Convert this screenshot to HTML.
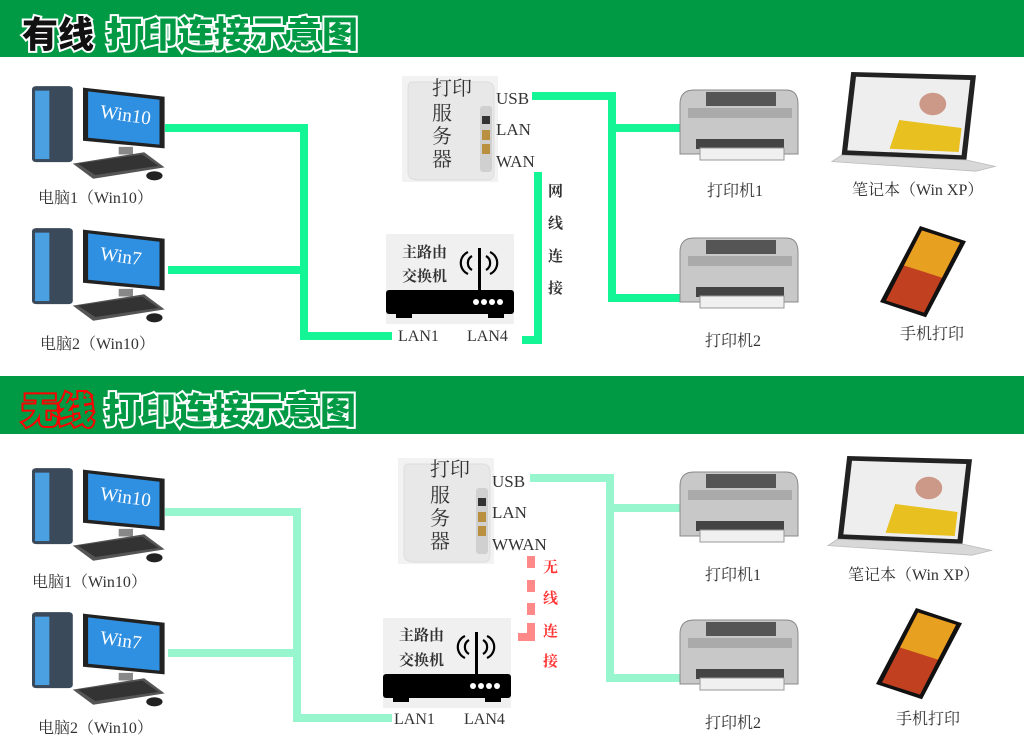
<!DOCTYPE html>
<html><head><meta charset="utf-8"><style>
html,body{margin:0;padding:0;background:#fff;}
svg{display:block;}
.t{font-family:"Liberation Serif","Noto Serif CJK SC",serif;fill:#333;}
.h{font-family:"Liberation Sans","Noto Sans CJK SC",sans-serif;font-weight:900;font-size:36px;stroke-width:4px;paint-order:stroke;}
</style></head><body>
<svg width="1024" height="750" viewBox="0 0 1024 750" xmlns="http://www.w3.org/2000/svg">
<defs>
<g id="pc">
  <rect x="0" y="8" width="40" height="100" rx="4" fill="#3a4a5a"/>
  <rect x="3" y="14" width="14" height="90" fill="#4aa0e0"/>
  <polygon points="50,10 130,22 130,90 50,80" fill="#222"/>
  <polygon points="55,15 125,26 125,85 55,76" fill="#2f8fe0"/>
  <rect x="85" y="88" width="14" height="10" fill="#888"/>
  <polygon points="40,110 110,95 130,115 60,130" fill="#555"/>
  <polygon points="45,110 108,98 124,113 62,125" fill="#333"/>
  <ellipse cx="120" cy="126" rx="8" ry="6" fill="#222"/>
</g>
<g id="printer">
  <path d="M4,20 Q4,6 18,6 L110,6 Q122,6 122,20 L122,70 L4,70 Z" fill="#c8c8c8" stroke="#888"/>
  <rect x="30" y="8" width="70" height="14" fill="#555"/>
  <rect x="12" y="24" width="104" height="10" fill="#aaa"/>
  <rect x="20" y="55" width="88" height="10" fill="#444"/>
  <rect x="24" y="64" width="84" height="12" fill="#f0f0f0" stroke="#999"/>
</g>
<g id="srv">
  <rect x="0" y="0" width="96" height="106" fill="#f2f2f2"/>
  <path d="M10,6 Q6,6 6,14 L6,96 Q6,104 16,104 L86,104 Q92,104 92,96 L92,14 Q92,6 84,6 Z" fill="#e8e8e8" stroke="#ddd"/>
  <rect x="78" y="30" width="12" height="66" rx="3" fill="#d0d0d0"/>
  <rect x="80" y="40" width="8" height="8" fill="#333"/>
  <rect x="80" y="54" width="8" height="10" fill="#b89040"/>
  <rect x="80" y="68" width="8" height="10" fill="#b89040"/>
</g>
<g id="router">
  <rect x="0" y="0" width="128" height="90" fill="#f0f0f0"/>
  <rect x="92" y="14" width="3" height="46" fill="#000"/>
  <path d="M86,22 a8,8 0 0 0 0,14 M100,22 a8,8 0 0 1 0,14 M82,18 a12,12 0 0 0 0,22 M104,18 a12,12 0 0 1 0,22" stroke="#000" stroke-width="2.2" fill="none"/>
  <rect x="0" y="56" width="128" height="24" rx="3" fill="#000"/>
  <rect x="10" y="78" width="16" height="6" fill="#000"/><rect x="102" y="78" width="16" height="6" fill="#000"/>
  <circle cx="90" cy="68" r="3" fill="#fff"/><circle cx="98" cy="68" r="3" fill="#fff"/><circle cx="106" cy="68" r="3" fill="#fff"/><circle cx="114" cy="68" r="3" fill="#fff"/>
</g>
<g id="laptop">
  <polygon points="20,0 150,4 140,110 10,104" fill="#222"/>
  <polygon points="25,6 144,10 135,104 16,98" fill="#eee"/>
  <polygon points="70,60 135,70 132,100 60,96" fill="#e8c020"/>
  <circle cx="105" cy="40" r="14" fill="#c98"/>
  <polygon points="10,104 140,110 170,118 150,124 0,112" fill="#d8d8d8" stroke="#bbb"/>
</g>
<g id="phone">
  <polygon points="40,0 86,20 46,120 0,100" fill="#111"/>
  <polygon points="42,6 80,22 44,114 6,98" fill="#c04020"/>
  <polygon points="42,6 80,22 62,68 24,52" fill="#e8a020"/>
</g>
</defs>

<rect x="0" y="0" width="1024" height="57" fill="#009944"/>
<text x="22" y="47" class="h" fill="#111" stroke="#fff">有线</text>
<text x="106" y="47" class="h" fill="#009944" stroke="#fff">打印连接示意图</text>

<rect x="0" y="376" width="1024" height="58" fill="#009944"/>
<text x="22" y="423" class="h" fill="#009944" stroke="#f00">无线</text>
<text x="104" y="423" class="h" fill="#009944" stroke="#fff">打印连接示意图</text>

<g stroke="#14f596" stroke-width="8" fill="none">
  <polyline points="165,128 304,128 304,336 392,336"/>
  <line x1="168" y1="270" x2="304" y2="270"/>
  <polyline points="532,96 612,96 612,298 682,298"/>
  <line x1="612" y1="128" x2="682" y2="128"/>
  <polyline points="538,172 538,340 522,340"/>
</g>
<g stroke="#98f6cf" stroke-width="8" fill="none">
  <polyline points="165,512 297,512 297,718 392,718"/>
  <line x1="168" y1="653" x2="297" y2="653"/>
  <polyline points="530,478 610,478 610,678 682,678"/>
  <line x1="610" y1="508" x2="682" y2="508"/>
</g>
<g fill="#ff8888">
  <rect x="527" y="556" width="8" height="12"/><rect x="527" y="580" width="8" height="12"/>
  <rect x="527" y="603" width="8" height="12"/><rect x="527" y="623" width="8" height="18"/>
  <rect x="518" y="633" width="17" height="8"/>
</g>

<use href="#pc" transform="translate(32,80) scale(1.02,0.76)"/>
<use href="#pc" transform="translate(32,222) scale(1.02,0.76)"/>
<text x="38" y="203" class="t" font-size="16" fill="#555">电脑1（Win10）</text>
<text x="40" y="349" class="t" font-size="16" fill="#555">电脑2（Win10）</text>
<use href="#srv" x="402" y="76"/>
<text x="432" y="95" class="t" font-size="20">打印</text>
<text x="432" y="120" class="t" font-size="20">服</text>
<text x="432" y="143" class="t" font-size="20">务</text>
<text x="432" y="166" class="t" font-size="20">器</text>
<text x="496" y="104" class="t" font-size="17">USB</text>
<text x="496" y="135" class="t" font-size="17">LAN</text>
<text x="496" y="167" class="t" font-size="17">WAN</text>
<g class="t" font-size="15" font-weight="bold"><text x="548" y="196">网</text><text x="548" y="228">线</text><text x="548" y="261">连</text><text x="548" y="293">接</text></g>
<use href="#router" x="386" y="234"/>
<text x="402" y="257" class="t" font-size="15" font-weight="bold">主路由</text>
<text x="402" y="281" class="t" font-size="15" font-weight="bold">交换机</text>
<text x="398" y="341" class="t" font-size="16">LAN1</text>
<text x="467" y="341" class="t" font-size="16">LAN4</text>
<use href="#printer" x="676" y="84"/>
<use href="#printer" x="676" y="232"/>
<text x="707" y="196" class="t" font-size="16" fill="#555">打印机1</text>
<text x="705" y="346" class="t" font-size="16" fill="#555">打印机2</text>
<use href="#laptop" transform="translate(832,72) scale(0.96,0.8)"/>
<use href="#phone" transform="translate(880,226) scale(1,0.76)"/>
<text x="852" y="195" class="t" font-size="16" fill="#555">笔记本（Win XP）</text>
<text x="900" y="339" class="t" font-size="16" fill="#555">手机打印</text>

<use href="#pc" transform="translate(32,462) scale(1.02,0.76)"/>
<use href="#pc" transform="translate(32,606) scale(1.02,0.76)"/>
<text x="32" y="587" class="t" font-size="16" fill="#555">电脑1（Win10）</text>
<text x="38" y="733" class="t" font-size="16" fill="#555">电脑2（Win10）</text>
<use href="#srv" x="398" y="458"/>
<text x="430" y="476" class="t" font-size="20">打印</text>
<text x="430" y="502" class="t" font-size="20">服</text>
<text x="430" y="525" class="t" font-size="20">务</text>
<text x="430" y="548" class="t" font-size="20">器</text>
<text x="492" y="487" class="t" font-size="17">USB</text>
<text x="492" y="518" class="t" font-size="17">LAN</text>
<text x="492" y="550" class="t" font-size="17">WWAN</text>
<g class="t" font-size="15" font-weight="bold" style="fill:#f33"><text x="543" y="572">无</text><text x="543" y="603">线</text><text x="543" y="636">连</text><text x="543" y="666">接</text></g>
<use href="#router" x="383" y="618"/>
<text x="399" y="640" class="t" font-size="15" font-weight="bold">主路由</text>
<text x="399" y="665" class="t" font-size="15" font-weight="bold">交换机</text>
<text x="394" y="724" class="t" font-size="16">LAN1</text>
<text x="464" y="724" class="t" font-size="16">LAN4</text>
<use href="#printer" x="676" y="466"/>
<use href="#printer" x="676" y="614"/>
<text x="705" y="580" class="t" font-size="16" fill="#555">打印机1</text>
<text x="705" y="728" class="t" font-size="16" fill="#555">打印机2</text>
<use href="#laptop" transform="translate(828,456) scale(0.96,0.8)"/>
<use href="#phone" transform="translate(876,608) scale(1,0.76)"/>
<text x="848" y="580" class="t" font-size="16" fill="#555">笔记本（Win XP）</text>
<text x="896" y="724" class="t" font-size="16" fill="#555">手机打印</text>
<text x="100" y="120" font-family="Liberation Serif,serif" font-size="19" fill="#fff" transform="rotate(8 118 115)">Win10</text>
<text x="100" y="262" font-family="Liberation Serif,serif" font-size="19" fill="#fff" transform="rotate(8 118 257)">Win7</text>
<text x="100" y="502" font-family="Liberation Serif,serif" font-size="19" fill="#fff" transform="rotate(8 118 497)">Win10</text>
<text x="100" y="646" font-family="Liberation Serif,serif" font-size="19" fill="#fff" transform="rotate(8 118 641)">Win7</text>
</svg>
</body></html>
